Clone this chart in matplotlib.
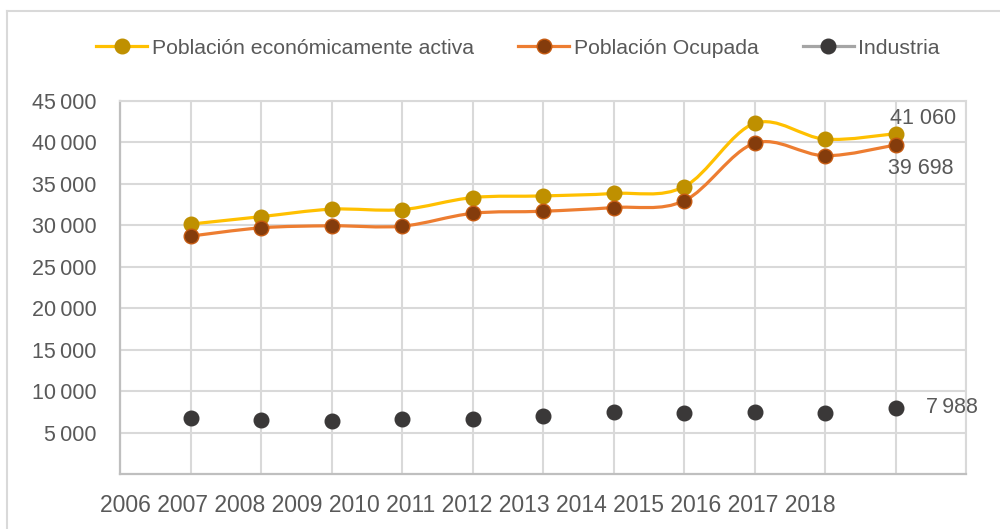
import matplotlib

matplotlib.use("Agg")

import matplotlib.pyplot as plt
from matplotlib.lines import Line2D
from matplotlib.patches import PathPatch
from matplotlib.path import Path

plt.rcParams["font.family"] = ["Liberation Sans", "DejaVu Sans"]

TEXT = "#595959"
GRID = "#D9D9D9"
AXIS = "#BFBFBF"

# data (one value per plotted point, 11 points)
years = [2006, 2007, 2008, 2009, 2010, 2011, 2012, 2013, 2014, 2015, 2016, 2017, 2018]
positions = [1, 2, 3, 4, 5, 6, 7, 8, 9, 10, 11]
pea = [30150, 31050, 31950, 31900, 33350, 33550, 33850, 34650, 42300, 40400, 41060]
ocupada = [28700, 29700, 29950, 29900, 31450, 31700, 32150, 32950, 39900, 38400, 39698]
industria = [6720, 6520, 6440, 6600, 6600, 7040, 7440, 7320, 7440, 7400, 7988]
yticks = [5000, 10000, 15000, 20000, 25000, 30000, 35000, 40000, 45000]

series = [
    ("Población económicamente activa", pea, "#FFC000", "#BF9000", "#BF9000"),
    ("Población Ocupada", ocupada, "#ED7D31", "#843C0C", "#C55A11"),
]


def smooth_path(xs, ys):
    # Excel-like smoothed line: cubic Bezier segments with Catmull-Rom tangents
    pts = list(zip(xs, ys))
    verts = [pts[0]]
    codes = [Path.MOVETO]
    n = len(pts)
    for i in range(n - 1):
        p0 = pts[max(i - 1, 0)]
        p1 = pts[i]
        p2 = pts[i + 1]
        p3 = pts[min(i + 2, n - 1)]
        c1 = (p1[0] + (p2[0] - p0[0]) / 6, p1[1] + (p2[1] - p0[1]) / 6)
        c2 = (p2[0] - (p3[0] - p1[0]) / 6, p2[1] - (p3[1] - p1[1]) / 6)
        verts += [c1, c2, p2]
        codes += [Path.CURVE4] * 3
    return Path(verts, codes)


fig = plt.figure(figsize=(10, 5.29), dpi=100, facecolor="white")
ax = fig.add_axes([0.12, 0.104, 0.846, 0.705])

handles = []
for label, vals, lc, mfc, mec in series:
    ax.add_patch(PathPatch(smooth_path(positions, vals), fill=False, edgecolor=lc,
                           lw=2.3, zorder=3, capstyle="round"))
    ax.plot(positions, vals, ls="none", marker="o", ms=10.5, mfc=mfc, mec=mec,
            mew=1, zorder=4)
    handles.append(Line2D([], [], color=lc, lw=2.3, marker="o", ms=10.5, mfc=mfc,
                          mec=mec, label=label))

ax.plot(positions, industria, ls="none", marker="o", ms=10.5, mfc="#3A3838",
        mec="#3A3838", zorder=4)
handles.append(Line2D([], [], color="#A5A5A5", lw=2.3, marker="o", ms=10.5,
                      mfc="#3A3838", mec="#3A3838", label="Industria"))

ax.set_xlim(0, 12)
ax.set_ylim(0, 45000)
ax.set_xticks(range(0, 13))
ax.set_xticklabels([])
ax.set_yticks(yticks)
ax.set_yticklabels([f"{v:,}".replace(",", "\u2009") for v in yticks])
ax.tick_params(length=0, colors=TEXT, labelsize=15.5, pad=17)
ax.grid(True, color=GRID, lw=1.5)
ax.set_axisbelow(True)
for side in ("top", "right"):
    ax.spines[side].set_color(GRID)
    ax.spines[side].set_linewidth(1.5)
for side in ("left", "bottom"):
    ax.spines[side].set_color(AXIS)
    ax.spines[side].set_linewidth(1.6)

# value labels at the last point
ax.annotate(f"{pea[-1]:,}".replace(",", " "), (positions[-1], pea[-1]),
            xytext=(-4, 11), textcoords="offset points", ha="left", va="center",
            color=TEXT, fontsize=15.5, zorder=2)
ax.annotate(f"{ocupada[-1]:,}".replace(",", " "), (positions[-1], ocupada[-1]),
            xytext=(18, -17), textcoords="offset points", ha="center", va="center",
            color=TEXT, fontsize=15.5, zorder=2)
ax.annotate(f"{industria[-1]:,}".replace(",", "\u2009"), (positions[-1], industria[-1]),
            xytext=(22, 0), textcoords="offset points", ha="left", va="center",
            color=TEXT, fontsize=15.5, zorder=2)

# year labels as in the source (one run of text, not aligned to the points)
fig.text(0.468, 0.045, " ".join(str(y) for y in years), ha="center", va="center",
         color=TEXT, fontsize=16.5)

fig.legend(handles=handles, loc="center", bbox_to_anchor=(0.518, 1 - 48 / 529),
           ncol=3, frameon=False, fontsize=15.3, labelcolor=TEXT, handlelength=2.4,
           handletextpad=0.2, columnspacing=2.1)

# outer chart frame (left and top edges)
fig.add_artist(Line2D([0.007, 0.007], [0, 1 - 11 / 529], color=GRID, lw=1.5))
fig.add_artist(Line2D([0.007, 1], [1 - 11 / 529, 1 - 11 / 529], color=GRID, lw=1.5))

fig.savefig("out.png", dpi=100, facecolor="white")
